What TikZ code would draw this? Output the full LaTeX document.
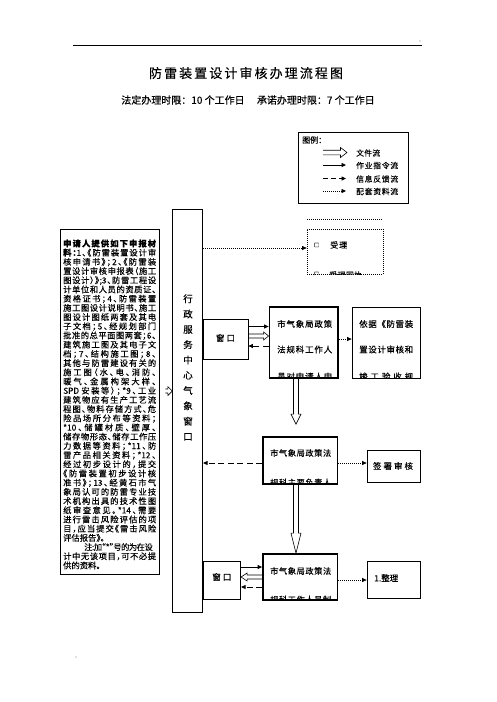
\documentclass[tikz,border=0pt]{standalone}
\usepackage{fontspec}
\setmainfont[FakeBold=0.3]{Noto Sans CJK SC}
\newfontfamily\lfont[RawFeature=+halt,FakeBold=0.3]{Noto Sans CJK SC}
\usetikzlibrary{arrows.meta,calc}
\makeatletter
\count@="3000 \loop\ifnum\count@<"A000 \XeTeXcharclass\count@=250 \advance\count@\@ne\repeat
\count@="FF00 \loop\ifnum\count@<"FFF0 \XeTeXcharclass\count@=250 \advance\count@\@ne\repeat
\makeatother
\XeTeXinterchartokenstate=1
\newcommand\cjkgl{\hskip 0pt plus 4pt minus 0.5pt\relax}
\XeTeXinterchartoks 0 250 = {\cjkgl}
\XeTeXinterchartoks 250 0 = {\cjkgl}
\XeTeXinterchartoks 250 250 = {\cjkgl}
\newcommand\lnj[1]{\makebox[93pt][s]{#1}}
\newcommand\spr[2]{\makebox[#1][s]{#2}}
\newcommand\hollowx[5]{%
  \draw[hollowline] let \p1=#1, \p2=#2, \n1={ifthenelse(\x2>\x1,1,-1)} in
    (\x1,\y1+#3) -- (\x2-\n1*#4,\y1+#3) -- (\x2-\n1*#4,\y1+#5)
    -- (\x2,\y1) -- (\x2-\n1*#4,\y1-#5) -- (\x2-\n1*#4,\y1-#3) -- (\x1,\y1-#3);}
\newcommand\hollowy[5]{%
  \draw[hollowline] let \p1=#1, \p2=#2, \n1={ifthenelse(\y2>\y1,1,-1)} in
    (\x1+#3,\y1) -- (\x1+#3,\y2-\n1*#4) -- (\x1+#5,\y2-\n1*#4)
    -- (\x1,\y2) -- (\x1-#5,\y2-\n1*#4) -- (\x1-#3,\y2-\n1*#4) -- (\x1-#3,\y1);}
\tikzset{
  box/.style={draw, line width=0.75pt, inner sep=0pt},
  tbox/.style={box, line width=1.8pt},
  dotbx/.style={box, line width=0.7pt, dash pattern=on 1pt off 1pt},
  txt/.style={inner sep=0pt, anchor=west},
  bt/.style={txt, font=\fontsize{8.5}{8.5}\selectfont},
  lg/.style={txt, font=\fontsize{7.8}{7.8}\selectfont},
  hollowline/.style={line width=0.6pt},
  solidarr/.style={-{Triangle[length=4.5pt,width=4pt]}, line width=0.8pt},
  dasharr/.style={-{Triangle[length=4.5pt,width=4pt]}, line width=0.8pt, dash pattern=on 6pt off 3.5pt},
  dotarr/.style={-{Triangle[length=4.5pt,width=4pt]}, line width=0.7pt, dash pattern=on 1pt off 1pt},
  dotln/.style={line width=0.7pt, dash pattern=on 1pt off 1pt},
  tiny/.style={inner sep=0pt, text=gray, font=\fontsize{4}{4}\selectfont},
}
\begin{document}
\begin{tikzpicture}[x=1pt,y=1pt]
\useasboundingbox (0,0) rectangle (496,-702);
% header
\coordinate (hl) at (73,-45);
\coordinate (hr) at (422,-45);
\draw[line width=0.9pt] (hl) -- (hr);
\node[tiny] (dotsA) at (420,-41) {..};
\node[tiny] (dotsB) at (76,-657) {..};
\node[font=\fontsize{13}{13}\selectfont, inner sep=0pt] (title) at (246,-73) {\spr{194pt}{防雷装置设计审核办理流程图}};
\node[font=\fontsize{10}{10}\selectfont, inner sep=0pt] (subtitle) at (248,-100) {法定办理时限：10 个工作日\quad\ 承诺办理时限：7 个工作日};

% legend
\node[box, minimum width=110pt, minimum height=70.5pt] (legend) at (353,-167.75) {};
\node[txt, font=\fontsize{8}{8}\selectfont] (legt) at (302,-140) {图例：};
\coordinate (la1) at (323,-152.5); \coordinate (la2) at (347,-152.5);
\coordinate (lb1) at (323,-165);   \coordinate (lb2) at (346,-165);
\coordinate (lc1) at (323,-178.5); \coordinate (lc2) at (346,-178.5);
\coordinate (ld1) at (323,-191);   \coordinate (ld2) at (346,-191);
\hollowx{(la1)}{(la2)}{2.3}{6.5}{5}
\draw[solidarr] (lb1) -- (lb2);
\draw[dasharr, dash pattern=on 5pt off 3pt] (lc1) -- (lc2);
\draw[dotarr] (ld1) -- (ld2);
\node[lg] (lt1) at (356,-153) {\spr{24pt}{文件流}};
\node[lg] (lt2) at (356,-165.5) {\spr{42pt}{作业指令流}};
\node[lg] (lt3) at (356,-179) {\spr{42pt}{信息反馈流}};
\node[lg] (lt4) at (356,-191.5) {\spr{42pt}{配套资料流}};
\coordinate (dl1) at (307,-219.5); \coordinate (dl2) at (383,-219.5);
\draw[dotln] (dl1) -- (dl2);

% boxes
\node[box, minimum width=99pt, minimum height=345pt] (leftbox) at (109.5,-401.5) {};
\node[box, minimum width=30pt, minimum height=403pt] (vbox) at (187.7,-410.5) {};
\node[box, minimum width=45pt, minimum height=40pt] (win1) at (225.5,-339) {};
\node[tbox, minimum width=68.5pt, minimum height=71pt] (p1) at (303.75,-342.5) {};
\node[box, minimum width=68.5pt, minimum height=71pt] (yj) at (386.25,-342.5) {};
\node[dotbx, minimum width=76pt, minimum height=45pt] (dotbox) at (345,-251.5) {};
\node[tbox, minimum width=74.5pt, minimum height=47pt] (p2) at (300.25,-460.5) {};
\node[box, minimum width=53pt, minimum height=31.5pt] (qs) at (393.5,-466.25) {};
\node[tbox, minimum width=74.5pt, minimum height=46pt] (p3) at (300.25,-577) {};
\node[box, minimum width=37.7pt, minimum height=38pt] (win2) at (221.85,-580) {};
\node[box, minimum width=53pt, minimum height=37.5pt] (zl) at (393.5,-579.75) {};

% left text
\node[anchor=north west, inner sep=0pt, align=left, font=\lfont\fontsize{8.3}{9.2}\selectfont] (ltxt) at (63,-239.3) {%
\lnj{\bfseries 申请人提供如下申报材}\\
\lnj{{\bfseries 料：}1、《防雷装置设计审}\\
\lnj{核申请书》；2、《防雷装}\\
\lnj{置设计审核申报表（施工}\\
\lnj{图设计）》;3、防雷工程设}\\
\lnj{计单位和人员的资质证、}\\
\lnj{资格证书；4、防雷装置}\\
\lnj{施工图设计说明书、施工}\\
\lnj{图设计图纸两套及其电}\\
\lnj{子文档；5、经规划部门}\\
\lnj{批准的总平面图两套；6、}\\
\lnj{建筑施工图及其电子文}\\
\lnj{档；7、结构施工图；8、}\\
\lnj{其他与防雷建设有关的}\\
\lnj{施工图（水、电、消防、}\\
\lnj{暖气、金属构架大样、}\\
\lnj{SPD 安装等）；*9、工业}\\
\lnj{建筑物应有生产工艺流}\\
\lnj{程图、物料存储方式、危}\\
\lnj{险品场所分布等资料；}\\
\lnj{*10、储罐材质、壁厚、}\\
\lnj{储存物形态、储存工作压}\\
\lnj{力数据等资料；*11、防}\\
\lnj{雷产品相关资料；*12、}\\
\lnj{经过初步设计的，提交}\\
\lnj{《防雷装置初步设计核}\\
\lnj{准书》；13、经黄石市气}\\
\lnj{象局认可的防雷专业技}\\
\lnj{术机构出具的技术性图}\\
\lnj{纸审查意见。*14、需要}\\
\lnj{进行雷击风险评估的项}\\
\lnj{目，应当提交《雷击风险}\\
评估报告》。\\
\hspace*{21pt}\makebox[62pt][s]{注:加“*”号的为在设}\\
\lnj{计中无该项目，可不必提}\\
供的资料。};

% vertical text
\node[align=center, inner sep=0pt, font=\fontsize{9.5}{15.3}\selectfont] (vt) at (188,-367.5) {行\\政\\服\\务\\中\\心\\气\\象\\窗\\口};

% window texts
\node[inner sep=0pt, font=\fontsize{8.5}{8.5}\selectfont] (w1t) at (225.5,-338) {\spr{19pt}{窗口}};
\node[inner sep=0pt, font=\fontsize{8.5}{8.5}\selectfont] (w2t) at (221.8,-577) {\spr{19pt}{窗口}};

% box texts (clipped)
\begin{scope}
\clip (p1.north west) rectangle (p1.south east);
\node[bt] (p1a) at (277,-324) {\spr{55pt}{市气象局政策}};
\node[bt] (p1b) at (277,-349.5) {\spr{55pt}{法规科工作人}};
\node[bt] (p1c) at (277,-376.5) {\spr{55pt}{员对申请人申}};
\end{scope}
\begin{scope}
\clip (yj.north west) rectangle (yj.south east);
\node[bt] (yja) at (359,-324) {\spr{54pt}{依据《防雷装}};
\node[bt] (yjb) at (359,-349.5) {\spr{54pt}{置设计审核和}};
\node[bt] (yjc) at (359,-376.5) {\spr{54pt}{竣工验收规}};
\end{scope}
\begin{scope}
\clip (dotbox.north west) rectangle (dotbox.south east);
\node[txt, font=\fontsize{5}{5}\selectfont] (db1) at (314,-245) {□};
\node[txt, font=\fontsize{8}{8}\selectfont] (db2) at (330,-245) {\spr{17pt}{受理}};
\node[txt, font=\fontsize{5}{5}\selectfont] (db3) at (314,-274) {□};
\node[txt, font=\fontsize{8}{8}\selectfont] (db4) at (329,-275) {\spr{33pt}{受理回执}};
\end{scope}
\begin{scope}
\clip (p2.north west) rectangle (p2.south east);
\node[txt, font=\fontsize{8.2}{8.2}\selectfont] (p2a) at (270,-453) {\spr{61pt}{市气象局政策法}};
\node[txt, font=\fontsize{8.2}{8.2}\selectfont] (p2b) at (270,-482.5) {\spr{61pt}{规科主要负责人}};
\end{scope}
\node[bt, anchor=center] (qst) at (393,-466) {\spr{40pt}{签署审核}};
\begin{scope}
\clip (p3.north west) rectangle (p3.south east);
\node[txt, font=\fontsize{8.2}{8.2}\selectfont] (p3a) at (270,-571) {\spr{61pt}{市气象局政策法}};
\node[txt, font=\fontsize{8.2}{8.2}\selectfont] (p3b) at (270,-599.5) {\spr{61pt}{规科工作人员制}};
\end{scope}
\node[bt] (zlt) at (374,-578) {\spr{24pt}{1.整理}};

% helper levels
\coordinate (ya) at (0,-391);
\coordinate (yb) at (0,-248);
\coordinate (yc) at (0,-326.5);
\coordinate (yd) at (0,-336);
\coordinate (ye) at (0,-346);
\coordinate (yf) at (0,-339);
\coordinate (yg) at (0,-463);
\coordinate (yh) at (0,-567);
\coordinate (yi) at (0,-577);
\coordinate (yk) at (0,-587);
\coordinate (yl) at (0,-580);
\coordinate (ax) at (296,0);

% connectors
\hollowx{($(leftbox.east|-ya)+(6,0)$)}{(vbox.west|-ya)}{2}{4.5}{4.5}
\draw[dotarr] (vbox.east|-yb) -- (dotbox.west|-yb);
\draw[solidarr] (win1.east|-yc) -- (p1.west|-yc);
\hollowx{(win1.east|-yd)}{(p1.west|-yd)}{2}{5}{4}
\draw[dasharr] (p1.west|-ye) -- (win1.east|-ye);
\draw[dotarr] (p1.east|-yf) -- (yj.west|-yf);
\hollowy{(ax|-p1.south)}{($(ax|-p2.north)+(0,12)$)}{2.5}{10}{5}
\draw[dasharr] (p2.west|-yg) -- (vbox.east|-yg);
\draw[dotarr] (p2.east|-yg) -- (qs.west|-yg);
\hollowy{(ax|-p2.south)}{(ax|-p3.north)}{2.5}{20}{5}
\draw[solidarr] (win2.east|-yh) -- (p3.west|-yh);
\hollowx{(p3.west|-yi)}{(win2.east|-yi)}{2}{6}{4}
\draw[dasharr] (p3.west|-yk) -- (win2.east|-yk);
\draw[dotarr] (p3.east|-yl) -- (zl.west|-yl);
\end{tikzpicture}
\end{document}
